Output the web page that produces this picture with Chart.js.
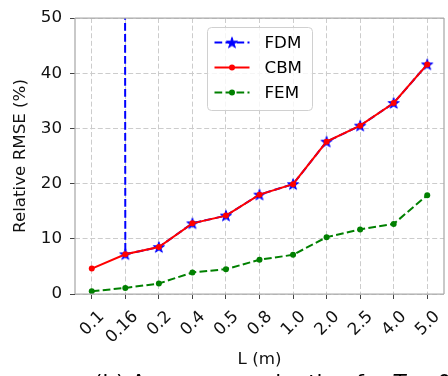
<!DOCTYPE html>
<html><head><meta charset="utf-8">
<script src="https://cdn.jsdelivr.net/npm/chart.js@4"></script>
<style>
html,body{margin:0;padding:0;background:#fff;overflow:hidden;width:448px;height:376px;}
#wrap{position:absolute;left:0;top:0;width:452px;height:376px;}
#cap{position:absolute;left:94px;top:373px;font-family:"DejaVu Sans";font-size:21.5px;white-space:nowrap;color:#000;line-height:20px;}
</style></head><body>
<div id="wrap"><canvas id="c" width="452" height="376"></canvas></div>
<div id="cap">(b) Accuracy evaluation for <i>T</i> = 0.6 s</div>
<script>
const categories = ['0.1','0.16','0.2','0.4','0.5','0.8','1.0','2.0','2.5','4.0','5.0'];
const fdmValues = [10000, 7.2, 8.5, 12.8, 14.2, 18.0, 19.9, 27.6, 30.5, 34.6, 41.6];
const cbmValues = [4.6, 7.2, 8.5, 12.8, 14.2, 18.0, 19.9, 27.6, 30.5, 34.6, 41.6];
const femValues = [0.5, 1.1, 1.9, 3.9, 4.5, 6.2, 7.1, 10.3, 11.7, 12.7, 17.9];
const yTicks = [0, 10, 20, 30, 40, 50];
const seriesNames = ['FDM', 'CBM', 'FEM'];

const FONT = '"DejaVu Sans", sans-serif';
const FS = 16.7;

function makeStar(r, color) {
  const s = Math.ceil(r * 2 + 4);
  const c = document.createElement('canvas');
  c.width = s; c.height = s;
  const g = c.getContext('2d');
  g.translate(s / 2, s / 2 + 0.5);
  g.beginPath();
  for (let i = 0; i < 10; i++) {
    const rad = i % 2 === 0 ? r : r * 0.381966;
    const a = -Math.PI / 2 + i * Math.PI / 5;
    g.lineTo(rad * Math.cos(a), rad * Math.sin(a));
  }
  g.closePath();
  g.fillStyle = color; g.fill();
  g.lineWidth = 1; g.strokeStyle = color; g.stroke();
  return c;
}
const starImg = makeStar(5.8, '#0000ff');

const spinePlugin = {
  id: 'spines',
  afterDatasetsDraw(chart) {
    const ctx = chart.ctx, a = chart.chartArea;
    ctx.save();
    ctx.strokeStyle = '#aaaaaa';
    ctx.lineWidth = 1.25;
    ctx.beginPath();
    ctx.moveTo(a.left, a.top); ctx.lineTo(a.right, a.top);
    ctx.moveTo(a.left, a.top); ctx.lineTo(a.left, a.bottom);
    ctx.moveTo(a.left, a.bottom); ctx.lineTo(a.right, a.bottom);
    ctx.moveTo(a.right, a.top); ctx.lineTo(a.right, a.bottom);
    ctx.stroke();
    ctx.restore();
  }
};

const legendPlugin = {
  id: 'mplLegend',
  afterDraw(chart) {
    const ctx = chart.ctx, a = chart.chartArea;
    const w = 105, h = 83;
    const x = Math.round((a.left + a.right) / 2 - w / 2) + 0.5;
    const y = a.top + 9.5;
    ctx.save();
    ctx.beginPath();
    const r = 4;
    ctx.moveTo(x + r, y);
    ctx.lineTo(x + w - r, y); ctx.arcTo(x + w, y, x + w, y + r, r);
    ctx.lineTo(x + w, y + h - r); ctx.arcTo(x + w, y + h, x + w - r, y + h, r);
    ctx.lineTo(x + r, y + h); ctx.arcTo(x, y + h, x, y + h - r, r);
    ctx.lineTo(x, y + r); ctx.arcTo(x, y, x + r, y, r);
    ctx.closePath();
    ctx.fillStyle = 'rgba(255,255,255,0.8)';
    ctx.fill();
    ctx.strokeStyle = '#d0d0d0';
    ctx.lineWidth = 1;
    ctx.stroke();
    chart.data.datasets.forEach((ds, i) => {
      const cy = y + 15 + i * 25;
      const x1 = x + 7, x2 = x + 42, cx = (x1 + x2) / 2;
      ctx.save();
      ctx.strokeStyle = ds.borderColor;
      ctx.lineWidth = ds.borderWidth;
      ctx.setLineDash(ds.borderDash || []);
      ctx.beginPath(); ctx.moveTo(x1, cy); ctx.lineTo(x2, cy); ctx.stroke();
      ctx.restore();
      if (ds.pointStyle instanceof HTMLCanvasElement) {
        ctx.drawImage(ds.pointStyle, cx - ds.pointStyle.width / 2, cy - ds.pointStyle.height / 2);
      } else {
        ctx.beginPath(); ctx.arc(cx, cy, ds.pointRadius, 0, Math.PI * 2);
        ctx.fillStyle = ds.pointBackgroundColor; ctx.fill();
      }
      ctx.fillStyle = '#000';
      ctx.font = FS + 'px ' + FONT;
      ctx.textBaseline = 'middle';
      ctx.textAlign = 'left';
      ctx.fillText(ds.label, x + 57, cy + 1);
    });
    ctx.restore();
  }
};

new Chart(document.getElementById('c'), {
  type: 'line',
  data: {
    labels: categories,
    datasets: [
      {
        label: seriesNames[0], data: fdmValues, order: 3,
        borderColor: '#0000ff', borderWidth: 2, borderDash: [7.7, 3.3],
        pointStyle: starImg, pointRadius: 6, pointBackgroundColor: '#0000ff', pointBorderColor: '#0000ff',
        tension: 0, fill: false
      },
      {
        label: seriesNames[1], data: cbmValues, order: 2,
        borderColor: '#ff0000', borderWidth: 2,
        pointStyle: 'circle', pointRadius: 3, pointBorderWidth: 0,
        pointBackgroundColor: '#ff0000', pointBorderColor: '#ff0000',
        tension: 0, fill: false
      },
      {
        label: seriesNames[2], data: femValues, order: 1,
        borderColor: '#008000', borderWidth: 2, borderDash: [7.7, 3.3],
        pointStyle: 'circle', pointRadius: 3, pointBorderWidth: 0,
        pointBackgroundColor: '#008000', pointBorderColor: '#008000',
        tension: 0, fill: false
      }
    ]
  },
  options: {
    responsive: false,
    animation: false,
    devicePixelRatio: 1,
    layout: { padding: { left: 0, right: 1, top: 16, bottom: 0 } },
    plugins: { legend: { display: false }, tooltip: { enabled: false } },
    scales: {
      x: {
        type: 'category',
        offset: true,
        afterFit(s) { s.height = 82; },
        grid: { offset: false, color: '#cccccc', lineWidth: 1, tickLength: 5, tickColor: '#444', tickWidth: 1, tickBorderDash: [] },
        border: { display: false, dash: [5, 2.6] },
        ticks: { autoSkip: false, maxRotation: 45, minRotation: 45, labelOffset: 10, padding: 8,
                 color: '#111', font: { family: FONT, size: FS } },
        title: { display: true, text: 'L (m)', color: '#111', font: { family: FONT, size: FS }, padding: { top: 0, bottom: 6 } }
      },
      y: {
        min: 0, max: 50,
        afterFit(s) { s.width = 75; },
        afterBuildTicks(s) { s.ticks = yTicks.map(v => ({ value: v })); },
        grid: { color: '#cccccc', lineWidth: 1, tickLength: 5, tickColor: '#444', tickWidth: 1, tickBorderDash: [] },
        border: { display: false, dash: [5, 2.6] },
        ticks: { padding: 8, color: '#111', font: { family: FONT, size: FS } },
        title: { display: true, text: 'Relative RMSE (%)', color: '#111', font: { family: FONT, size: FS }, padding: { top: 11, bottom: 0 } }
      }
    }
  },
  plugins: [spinePlugin, legendPlugin]
});
</script>
</body></html>
